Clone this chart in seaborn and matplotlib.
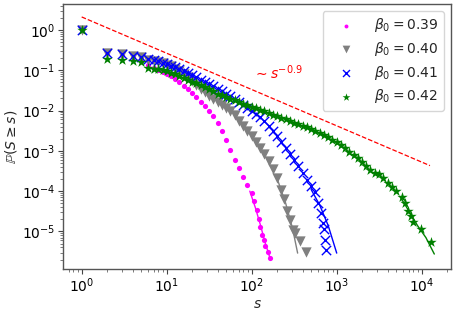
import numpy as np
import pandas as pd
import matplotlib
matplotlib.use("Agg")
import matplotlib.pyplot as plt
import seaborn as sns

# ---- data: log10(s) and log10(P(S>=s)) ----
logs_039 = [0, 0.301, 0.477, 0.602, 0.699, 0.778, 0.845, 0.903, 0.954, 1.0, 1.05, 1.1, 1.15, 1.2,
            1.25, 1.3, 1.35, 1.4, 1.45, 1.5, 1.55, 1.6, 1.65, 1.7, 1.75, 1.8, 1.85, 1.9, 1.95,
            2.0, 2.03, 2.06, 2.08, 2.1, 2.12, 2.14, 2.16, 2.19, 2.216]
logp_039 = [0, -0.57, -0.61, -0.66, -0.72, -0.88, -0.94, -0.99, -1.04, -1.09, -1.15, -1.22, -1.3,
            -1.38, -1.47, -1.57, -1.67, -1.78, -1.88, -2.0, -2.14, -2.3, -2.5, -2.72, -2.97,
            -3.22, -3.43, -3.64, -3.85, -4.05, -4.25, -4.47, -4.7, -4.88, -5.1, -5.22, -5.35,
            -5.5, -5.65]

logs_040 = [0, 0.301, 0.477, 0.602, 0.699, 0.778, 0.845, 0.903, 0.954, 1.0, 1.05, 1.1, 1.15, 1.2,
            1.25, 1.3, 1.35, 1.4, 1.45, 1.5, 1.55, 1.6, 1.65, 1.7, 1.75, 1.8, 1.85, 1.9, 1.95,
            2.0, 2.05, 2.1, 2.15, 2.2, 2.25, 2.3, 2.345, 2.38, 2.42, 2.45, 2.49, 2.51, 2.568,
            2.64]
logp_040 = [0, -0.56, -0.6, -0.64, -0.68, -0.74, -0.77, -0.8, -0.83, -0.86, -0.9, -0.96, -1.02,
            -1.1, -1.18, -1.27, -1.36, -1.46, -1.55, -1.63, -1.71, -1.79, -1.86, -1.93, -2.0,
            -2.12, -2.25, -2.38, -2.5, -2.64, -2.78, -2.93, -3.08, -3.25, -3.45, -3.68, -3.97,
            -4.2, -4.5, -4.72, -4.96, -5.05, -5.23, -5.52]

logs_041 = [0, 0.301, 0.477, 0.602, 0.699, 0.778, 0.845, 0.903, 0.954, 1.0, 1.05, 1.1, 1.15, 1.2,
            1.25, 1.3, 1.35, 1.4, 1.45, 1.5, 1.55, 1.6, 1.65, 1.7, 1.75, 1.8, 1.85, 1.9, 1.95,
            2.0, 2.05, 2.1, 2.15, 2.2, 2.25, 2.3, 2.35, 2.4, 2.45, 2.5, 2.55, 2.6, 2.65, 2.7,
            2.745, 2.78, 2.81, 2.84, 2.855, 2.866, 2.875]
logp_041 = [0, -0.57, -0.6, -0.64, -0.68, -0.72, -0.75, -0.78, -0.81, -0.84, -0.89, -0.93, -0.98,
            -1.03, -1.08, -1.13, -1.18, -1.24, -1.29, -1.35, -1.4, -1.46, -1.52, -1.58, -1.65,
            -1.72, -1.79, -1.86, -1.93, -2.0, -2.08, -2.17, -2.27, -2.38, -2.5, -2.63, -2.77,
            -2.92, -3.07, -3.22, -3.38, -3.55, -3.72, -3.88, -4.02, -4.3, -4.55, -4.8, -4.95,
            -5.2, -5.46]

logs_042 = [0, 0.301, 0.477, 0.602, 0.699, 0.778, 0.845, 0.903, 0.954, 1.0, 1.05, 1.1, 1.15, 1.2,
            1.25, 1.3, 1.35, 1.4, 1.45, 1.5, 1.55, 1.6, 1.65, 1.7, 1.75, 1.8, 1.85, 1.9, 1.95,
            2.0, 2.05, 2.1, 2.15, 2.2, 2.25, 2.3, 2.35, 2.4, 2.45, 2.5, 2.55, 2.6, 2.65, 2.7,
            2.75, 2.8, 2.85, 2.9, 2.95, 3.0, 3.05, 3.1, 3.15, 3.2, 3.25, 3.3, 3.35, 3.39, 3.45,
            3.5, 3.545, 3.6, 3.65, 3.7, 3.765, 3.8, 3.84, 3.87, 3.9, 3.99, 4.106]
logp_042 = [0, -0.72, -0.75, -0.77, -0.79, -0.94, -0.96, -0.98, -1.0, -1.02, -1.06, -1.1, -1.15,
            -1.2, -1.24, -1.28, -1.32, -1.36, -1.41, -1.46, -1.52, -1.58, -1.62, -1.66, -1.71,
            -1.75, -1.79, -1.83, -1.87, -1.9, -1.94, -1.98, -2.02, -2.06, -2.1, -2.14, -2.18,
            -2.22, -2.26, -2.3, -2.34, -2.38, -2.42, -2.47, -2.51, -2.56, -2.61, -2.66, -2.72,
            -2.78, -2.86, -2.94, -3.02, -3.1, -3.19, -3.28, -3.38, -3.47, -3.55, -3.58, -3.67,
            -3.8, -3.9, -4.0, -4.14, -4.3, -4.5, -4.62, -4.76, -4.95, -5.25]

# tail fit curves (s, P)
fit_s_039 = [95, 110, 126, 145, 164]
fit_p_039 = [1.0e-4, 4e-5, 1.5e-5, 5e-6, 2.2e-6]
fit_s_040 = [200, 251, 302, 347]
fit_p_040 = [2e-4, 5e-5, 1.2e-5, 2.9e-6]
fit_s_041 = [500, 631, 794, 1000]
fit_p_041 = [1.1e-4, 4.5e-5, 1.4e-5, 2.9e-6]
fit_s_042 = [5623, 7079, 8913, 11220, 14060]
fit_p_042 = [7e-5, 3.2e-5, 1.4e-5, 7e-6, 2.75e-6]

# reference power law ~ s^-0.9
ref_s = [1, 12500]
ref_p = [2.1, 4.3e-4]

labels = [r'$\beta_0 = 0.39$', r'$\beta_0 = 0.40$', r'$\beta_0 = 0.41$', r'$\beta_0 = 0.42$']

sns.set_style("ticks")
plt.rcParams['font.family'] = ['DejaVu Sans']
plt.rcParams['mathtext.fontset'] = 'dejavusans'

fig = plt.figure(figsize=(4.57, 3.12), dpi=100)
ax = fig.add_axes([63/457, 1 - 269/312, (451 - 63)/457, (269 - 4)/312])

series = [
    (logs_039, logp_039, fit_s_039, fit_p_039, '#ff00ff', 'o', 14),
    (logs_040, logp_040, fit_s_040, fit_p_040, 'gray', 'v', 55),
    (logs_041, logp_041, fit_s_041, fit_p_041, 'blue', 'x', 45),
    (logs_042, logp_042, fit_s_042, fit_p_042, 'green', '*', 62),
]

for (lx, ly, fx, fy, col, mk, sz), lab in zip(series, labels):
    df = pd.DataFrame({'s': np.power(10.0, lx), 'p': np.power(10.0, ly)})
    lw = 1.0 if mk == 'x' else 0
    sns.scatterplot(data=df, x='s', y='p', marker=mk, color=col, s=sz, linewidth=lw,
                    ax=ax, label=lab, zorder=3)
    fdf = pd.DataFrame({'s': fx, 'p': fy})
    sns.lineplot(data=fdf, x='s', y='p', color=col, linewidth=1.0, ax=ax, sort=False,
                 estimator=None, legend=False, zorder=2)

rdf = pd.DataFrame({'s': ref_s, 'p': ref_p})
sns.lineplot(data=rdf, x='s', y='p', color='red', linestyle='--', linewidth=0.9, ax=ax,
             estimator=None, legend=False, zorder=4)
ax.text(104, 0.085, r'$\sim s^{-0.9}$', color='red', fontsize=10, ha='left', va='center')

ax.set_xscale('log')
ax.set_yscale('log')
ax.set_xlim(0.603, 22100)
ax.set_ylim(1.17e-6, 4.4)
ax.set_xlabel(r'$s$', fontsize=10, labelpad=1)
ax.set_ylabel(r'$\mathbb{P}(S \geq s)$', fontsize=10, labelpad=2)
ax.tick_params(which='major', length=3.5, width=0.8, pad=2, labelsize=10,
               colors='#444444', labelcolor='black')
ax.tick_params(which='minor', length=2, width=0.6, colors='#666666')
for sp in ax.spines.values():
    sp.set_color('#555555')
    sp.set_linewidth(1.0)

leg = ax.legend(loc='upper right', fontsize=10, frameon=True, handletextpad=0.8,
                handlelength=2.5, labelspacing=0.4, markerscale=0.75)
leg.get_frame().set_edgecolor('#cccccc')

fig.savefig('out.png', dpi=100)
